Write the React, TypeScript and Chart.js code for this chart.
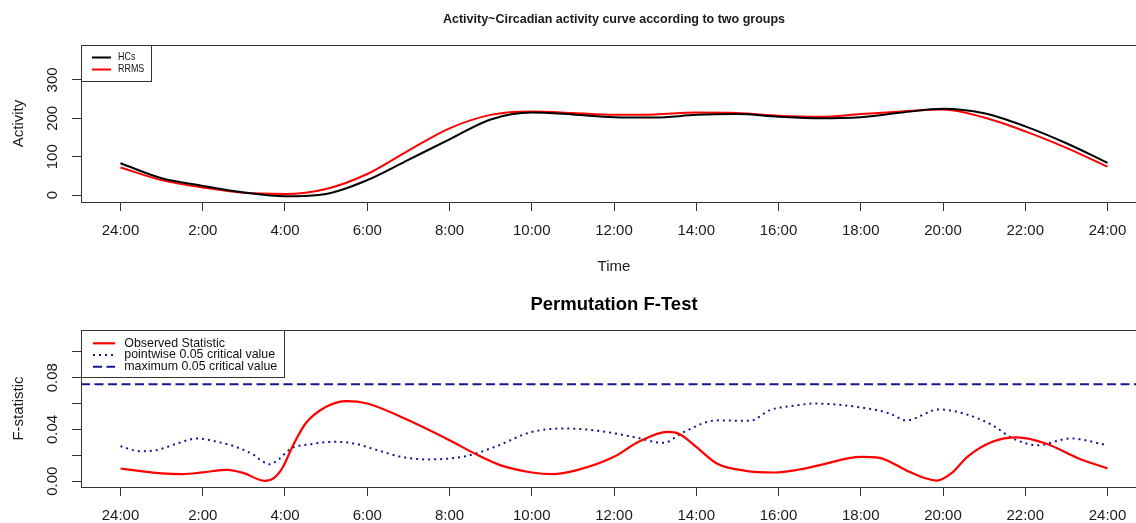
import React, { useEffect, useRef } from 'react';
import { Chart, registerables } from 'chart.js';

Chart.register(...registerables);

const FONT = '"Liberation Sans", Arial, Helvetica, sans-serif';

// ---------- data: top panel (activity curves) ----------
const hours = [0, 1, 2, 3, 4, 5, 6, 7, 8, 9, 10, 11, 12, 13, 14, 15, 16, 17, 18, 19, 20, 21, 22, 23, 24];
const hcsActivity = [83, 44, 24, 7, -3, 3, 39, 92, 145, 197, 215, 210, 203, 202, 209, 211, 204, 200, 203, 215, 225, 213, 179, 135, 84];
const rrmsActivity = [72, 39, 20, 6, 3, 16, 55, 116, 174, 209, 218, 214, 209, 210, 215, 214, 207, 204, 211, 218, 223, 202, 166, 123, 74];

// ---------- data: bottom panel (permutation F-test) ----------
const obsHours = [0, 0.6, 1.0, 1.5, 2.0, 2.6, 3.0, 3.5, 3.75, 3.95, 4.2, 4.5, 5.0, 5.5, 6.0, 6.8, 8.0, 8.66, 9.23, 10.0, 10.5, 11.1, 12.0, 12.6, 13.3, 13.6, 14.0, 14.5, 15.2, 15.9, 16.5, 17.0, 18.0, 18.45, 19.1, 19.5, 19.85, 20.2, 20.6, 21.2, 21.8, 22.5, 23.3, 24.0];
const obsValues = [0.0098, 0.0074, 0.006, 0.0055, 0.0068, 0.0088, 0.0062, 0.0003, 0.003, 0.011, 0.028, 0.0446, 0.0575, 0.0619, 0.06, 0.05, 0.0317, 0.0206, 0.0124, 0.0067, 0.0054, 0.0085, 0.0188, 0.0304, 0.0381, 0.0363, 0.0265, 0.0137, 0.008, 0.0067, 0.009, 0.0124, 0.0188, 0.018, 0.0085, 0.003, 0.0005, 0.006, 0.019, 0.0304, 0.0338, 0.0291, 0.0175, 0.0098];

const pwHours = [0, 0.47, 0.88, 1.37, 1.86, 2.35, 2.76, 3.25, 3.42, 3.62, 3.85, 4.15, 4.63, 5.2, 5.7, 6.24, 6.8, 7.44, 8.4, 9.1, 10.0, 10.8, 11.6, 12.5, 13.2, 13.7, 14.5, 15.3, 15.8, 16.5, 16.84, 18.0, 18.7, 19.1, 19.9, 20.5, 21.2, 21.7, 22.3, 23.1, 24.0];
const pwValues = [0.027, 0.0232, 0.024, 0.029, 0.033, 0.0304, 0.027, 0.0201, 0.016, 0.013, 0.017, 0.0253, 0.0286, 0.0304, 0.029, 0.024, 0.019, 0.0168, 0.0193, 0.0265, 0.038, 0.0407, 0.039, 0.034, 0.0296, 0.038, 0.047, 0.0466, 0.055, 0.0588, 0.06, 0.057, 0.0523, 0.047, 0.0554, 0.0523, 0.0433, 0.033, 0.0278, 0.033, 0.0278];

const maxCritical = 0.0748;

// ---------- axes ----------
const xMin = -0.96;
const xMax = 24.96;
const xTickHours = [0, 2, 4, 6, 8, 10, 12, 14, 16, 18, 20, 22, 24];
const xTickLabels = ['24:00', '2:00', '4:00', '6:00', '8:00', '10:00', '12:00', '14:00', '16:00', '18:00', '20:00', '22:00', '24:00'];
const activityTicks = [0, 100, 200, 300];
const activityTickLabels = ['0', '100', '200', '300'];
const fTicks = [0, 0.02, 0.04, 0.06, 0.08, 0.1];
const fTickLabels = ['0.00', '', '0.04', '', '0.08', ''];

const TEXT = '#1a1a1a';
const AXIS = '#333333';

const rFramePlugin = {
  id: 'rFrame',
  afterDraw(chart: any, _args: any, opts: any) {
    const { ctx, chartArea: a } = chart;
    ctx.save();
    // box
    ctx.strokeStyle = AXIS;
    ctx.lineWidth = 1;
    ctx.strokeRect(Math.round(a.left) + 0.5, Math.round(a.top) + 0.5, Math.round(a.right - a.left), Math.round(a.bottom - a.top));
    // rotated y tick labels (R style)
    const ys = chart.scales.y;
    ctx.fillStyle = TEXT;
    ctx.font = `15px ${FONT}`;
    ctx.textAlign = 'center';
    ctx.textBaseline = 'middle';
    (opts.yTicks as number[]).forEach((v, i) => {
      const lab = opts.yLabels[i];
      if (!lab) return;
      const py = ys.getPixelForValue(v);
      ctx.save();
      ctx.translate(opts.yLabelX, py);
      ctx.rotate(-Math.PI / 2);
      ctx.fillText(lab, 0, 0);
      ctx.restore();
    });
    // legend
    const L = opts.legend;
    ctx.fillStyle = '#ffffff';
    ctx.fillRect(L.x, L.y, L.w, L.h);
    ctx.strokeStyle = AXIS;
    ctx.lineWidth = 1;
    ctx.strokeRect(L.x + 0.5, L.y + 0.5, L.w, L.h);
    chart.data.datasets.forEach((ds: any, i: number) => {
      const ly = L.y + L.firstRow + i * L.rowGap;
      ctx.save();
      ctx.strokeStyle = ds.borderColor;
      ctx.lineWidth = ds.borderWidth;
      ctx.setLineDash(ds.borderDash || []);
      ctx.beginPath();
      ctx.moveTo(L.lineX0, ly);
      ctx.lineTo(L.lineX1, ly);
      ctx.stroke();
      ctx.restore();
      ctx.save();
      ctx.fillStyle = '#111111';
      ctx.font = L.font;
      ctx.textAlign = 'left';
      ctx.textBaseline = 'middle';
      ctx.translate(L.textX, ly);
      ctx.scale(L.scaleX, 1);
      ctx.fillText(ds.label, 0, 0);
      ctx.restore();
    });
    ctx.restore();
  },
};

function xScale(withTitle: boolean, height: number) {
  return {
    type: 'linear',
    min: xMin,
    max: xMax,
    afterBuildTicks: (s: any) => {
      s.ticks = xTickHours.map((v) => ({ value: v }));
    },
    afterFit: (s: any) => {
      s.height = height;
    },
    ticks: {
      autoSkip: false,
      maxRotation: 0,
      minRotation: 0,
      padding: 11,
      color: TEXT,
      font: { family: FONT, size: 15 },
      callback: (v: number) => xTickLabels[xTickHours.indexOf(v)] ?? '',
    },
    grid: { display: true, drawOnChartArea: false, drawTicks: true, tickLength: 9, tickColor: AXIS, lineWidth: 1 },
    border: { display: false },
    title: withTitle
      ? { display: true, text: 'Time', color: TEXT, font: { family: FONT, size: 15, lineHeight: 1.2 }, padding: { top: 0, bottom: 9 } }
      : { display: false },
  };
}

function yScale(min: number, max: number, ticks: number[], title: string) {
  return {
    type: 'linear',
    min,
    max,
    afterBuildTicks: (s: any) => {
      s.ticks = ticks.map((v) => ({ value: v }));
    },
    afterFit: (s: any) => {
      s.width = 81;
    },
    ticks: { display: false },
    grid: { display: true, drawOnChartArea: false, drawTicks: true, tickLength: 9, tickColor: AXIS, lineWidth: 1 },
    border: { display: false },
    title: { display: true, text: title, color: TEXT, font: { family: FONT, size: 15, lineHeight: 1.2 }, padding: { top: 10, bottom: 0 } },
  };
}

const WIDTH = 1160;
const TOP_H = 285;
const BOTTOM_H = 238;

export default function App() {
  const topRef = useRef<HTMLCanvasElement>(null);
  const bottomRef = useRef<HTMLCanvasElement>(null);

  useEffect(() => {
    const common = {
      responsive: false,
      animation: false as const,
      events: [],
      layout: { padding: { left: 0, top: 0, right: WIDTH - 1147, bottom: 0 } },
    };

    const top = new Chart(topRef.current!, {
      type: 'line',
      data: {
        datasets: [
          {
            label: 'HCs',
            data: hours.map((h, i) => ({ x: h, y: hcsActivity[i] })),
            borderColor: '#000000',
            borderWidth: 2,
            pointRadius: 0,
            cubicInterpolationMode: 'monotone',
            fill: false,
          },
          {
            label: 'RRMS',
            data: hours.map((h, i) => ({ x: h, y: rrmsActivity[i] })),
            borderColor: '#ff0000',
            borderWidth: 2,
            pointRadius: 0,
            cubicInterpolationMode: 'monotone',
            fill: false,
          },
        ],
      },
      options: {
        ...common,
        scales: {
          x: xScale(true, TOP_H - 202) as any,
          y: yScale(-18, 391, activityTicks, 'Activity') as any,
        },
        plugins: {
          legend: { display: false },
          tooltip: { enabled: false },
          title: {
            display: true,
            fullSize: false,
            text: 'Activity~Circadian activity curve according to two groups',
            color: TEXT,
            font: { family: FONT, size: 12.5, weight: 'bold', lineHeight: 1.2 },
            padding: { top: 12.5, bottom: 17.5 },
          },
          rFrame: {
            yTicks: activityTicks,
            yLabels: activityTickLabels,
            yLabelX: 53,
            legend: {
              x: 81, y: 45, w: 70, h: 36,
              firstRow: 12.5, rowGap: 12,
              lineX0: 92, lineX1: 111, textX: 118,
              font: `10.5px ${FONT}`, scaleX: 0.85,
            },
          },
        } as any,
      },
      plugins: [rFramePlugin],
    });

    const bottom = new Chart(bottomRef.current!, {
      type: 'line',
      data: {
        datasets: [
          {
            label: 'Observed Statistic',
            data: obsHours.map((h, i) => ({ x: h, y: obsValues[i] })),
            borderColor: '#ff0000',
            borderWidth: 2.2,
            pointRadius: 0,
            cubicInterpolationMode: 'monotone',
            fill: false,
          },
          {
            label: 'pointwise 0.05 critical value',
            data: pwHours.map((h, i) => ({ x: h, y: pwValues[i] })),
            borderColor: '#16168e',
            borderWidth: 2,
            borderDash: [2, 4],
            pointRadius: 0,
            cubicInterpolationMode: 'monotone',
            fill: false,
          },
          {
            label: 'maximum 0.05 critical value',
            data: [
              { x: xMin, y: maxCritical },
              { x: xMax, y: maxCritical },
            ],
            borderColor: '#16168e',
            borderWidth: 2,
            borderDash: [9, 4.5],
            pointRadius: 0,
            fill: false,
          },
        ],
      },
      options: {
        ...common,
        scales: {
          x: xScale(false, BOTTOM_H - 202) as any,
          y: yScale(-0.0045, 0.1168, fTicks, 'F-statistic') as any,
        },
        plugins: {
          legend: { display: false },
          tooltip: { enabled: false },
          title: {
            display: true,
            fullSize: false,
            text: 'Permutation F-Test',
            color: '#000000',
            font: { family: FONT, size: 18.5, weight: 'bold', lineHeight: 1.2 },
            padding: { top: 8.9, bottom: 13.9 },
          },
          rFrame: {
            yTicks: fTicks,
            yLabels: fTickLabels,
            yLabelX: 53,
            legend: {
              x: 81, y: 45, w: 203, h: 47,
              firstRow: 13.3, rowGap: 11.7,
              lineX0: 93, lineX1: 115, textX: 124.3,
              font: `12.4px ${FONT}`, scaleX: 1,
            },
          },
        } as any,
      },
      plugins: [rFramePlugin],
    });

    return () => {
      top.destroy();
      bottom.destroy();
    };
  }, []);

  return (
    <div style={{ position: 'fixed', left: 0, top: 0, width: 1136, height: 523, overflow: 'hidden', background: '#ffffff' }}>
      <canvas ref={topRef} width={WIDTH} height={TOP_H} style={{ position: 'absolute', left: 0, top: 0, display: 'block' }} />
      <canvas ref={bottomRef} width={WIDTH} height={BOTTOM_H} style={{ position: 'absolute', left: 0, top: TOP_H, display: 'block' }} />
    </div>
  );
}
